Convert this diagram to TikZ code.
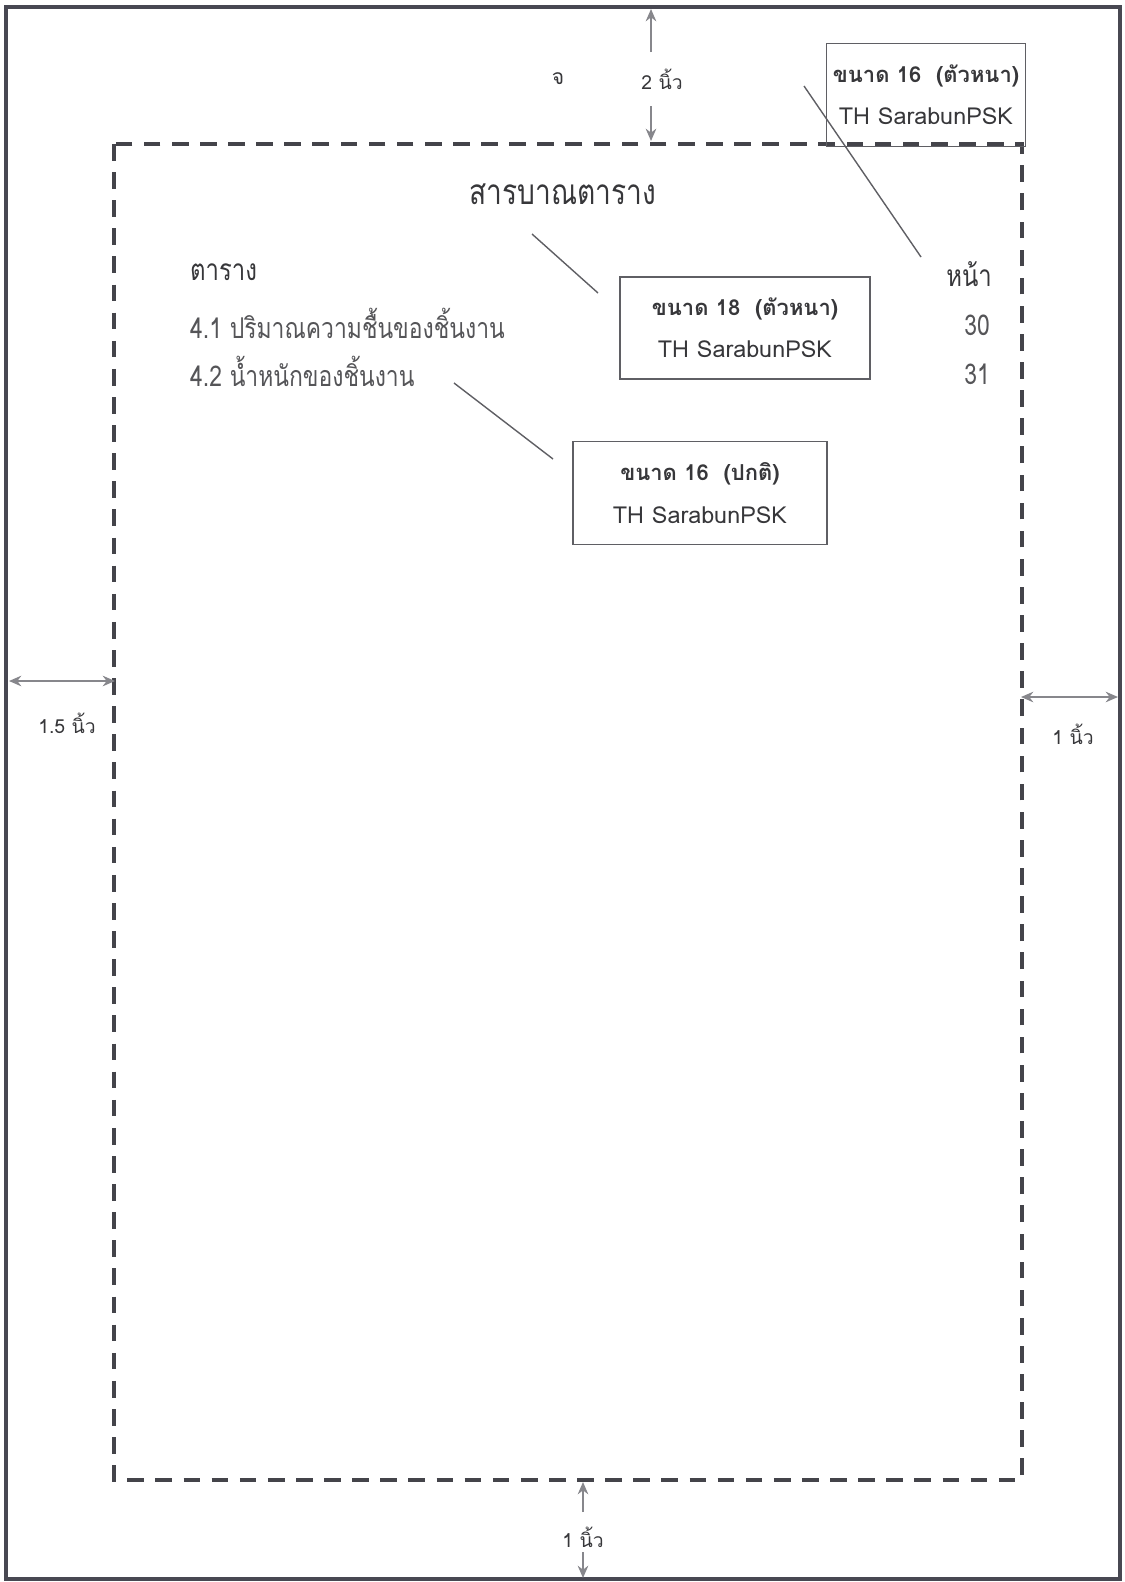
\documentclass[tikz,border=0pt]{standalone}
\usepackage{fontspec}
\newfontfamily\thaifont[Script=Thai, FakeStretch=0.8]{Loma}
\newfontfamily\notefont[Script=Thai]{Loma}
\usetikzlibrary{arrows.meta}
\definecolor{FrameGray}{RGB}{72,72,82}
\definecolor{DashGray}{RGB}{68,68,74}
\definecolor{ArrowGray}{RGB}{135,135,140}
\definecolor{TextGray}{RGB}{55,55,58}
\definecolor{SoftText}{RGB}{85,85,88}
\definecolor{BoxGray}{RGB}{95,95,100}

\begin{document}
\begin{tikzpicture}[x=0.02cm, y=-0.02cm,
  sizebox/.style={draw=BoxGray, line width=0.8pt, align=center, text=TextGray,
    font=\notefont\fontsize{13.3}{24}\selectfont},
  dimarrow/.style={ArrowGray, line width=1.1pt, -{Stealth[length=7pt,width=6pt]}},
  dimboth/.style={ArrowGray, line width=1.1pt, {Stealth[length=7pt,width=6pt]}-{Stealth[length=7pt,width=6pt]}},
  dimlabel/.style={TextGray, font=\notefont\fontsize{11}{13}\selectfont},
  leader/.style={BoxGray, line width=0.8pt}]
  \useasboundingbox (0,0) rectangle (1125,1582);

  % page and text area
  \draw[FrameGray, line width=2.2pt] (6,7) rectangle (1120,1579);
  \draw[DashGray, line width=2.4pt, dash pattern=on 9.5pt off 6.5pt] (114,144) rectangle (1022,1480);

  % margins
  \coordinate (topout) at (651,9);
  \coordinate (topmid) at (651,52);
  \coordinate (topgo) at (651,106);
  \coordinate (topin) at (651,141);
  \draw[dimarrow] (topmid) -- (topout);
  \draw[dimarrow] (topgo) -- (topin);
  \node[dimlabel, font=\notefont\fontsize{12}{13}\selectfont] (pagemark) at (558,79) {จ};
  \node[dimlabel] (topgap) at (662,79) {2 นิ้ว};

  \coordinate (leftout) at (9,681);
  \coordinate (leftin) at (115,681);
  \draw[dimboth] (leftout) -- (leftin);
  \node[dimlabel] (leftgap) at (67,723) {1.5 นิ้ว};

  \coordinate (rightin) at (1021,697);
  \coordinate (rightout) at (1118,697);
  \draw[dimboth] (rightin) -- (rightout);
  \node[dimlabel] (rightgap) at (1073,734) {1 นิ้ว};

  \coordinate (botin) at (583,1482);
  \coordinate (botmid) at (583,1512);
  \coordinate (botgo) at (583,1552);
  \coordinate (botout) at (583,1578);
  \draw[dimarrow] (botmid) -- (botin);
  \draw[dimarrow] (botgo) -- (botout);
  \node[dimlabel] (botgap) at (583,1537) {1 นิ้ว};

  % list of tables
  \node[TextGray, font=\thaifont\fontsize{20}{24}\selectfont] (title) at (563,194) {สารบาณตาราง};
  \node[anchor=west, TextGray, font=\thaifont\fontsize{17}{20}\selectfont] (tabhead) at (184,272) {ตาราง};
  \node[anchor=west, SoftText, font=\thaifont\fontsize{16.3}{20}\selectfont] (row1) at (184,323) {4.1 ปริมาณความชื้นของชิ้นงาน};
  \node[anchor=west, SoftText, font=\thaifont\fontsize{16.3}{20}\selectfont] (row2) at (184,371) {4.2 น้ำหนักของชิ้นงาน};
  \node[TextGray, font=\thaifont\fontsize{17}{20}\selectfont] (pagehead) at (969,274) {หน้า};
  \node[SoftText, font=\thaifont\fontsize{16.3}{20}\selectfont] (page1) at (977,325) {30};
  \node[SoftText, font=\thaifont\fontsize{16.3}{20}\selectfont] (page2) at (977,374) {31};

  % font notes
  \node[sizebox, minimum width=3.98cm, minimum height=2.06cm] (note1) at (926,95)
    {{\bfseries\fontsize{12.5}{24}\selectfont ขนาด 16\ \ (ตัวหนา)}\\ TH SarabunPSK};
  \node[sizebox, minimum width=5cm, minimum height=2.04cm] (note2) at (745,328)
    {{\bfseries\fontsize{12.5}{24}\selectfont ขนาด 18\ \ (ตัวหนา)}\\ TH SarabunPSK};
  \node[sizebox, minimum width=5.08cm, minimum height=2.06cm] (note3) at (700,493)
    {{\bfseries\fontsize{12.5}{24}\selectfont ขนาด 16\ \ (ปกติ)}\\ TH SarabunPSK};

  \coordinate (lead1a) at (804,86);
  \coordinate (lead1b) at (921,257);
  \coordinate (lead2a) at (532,234);
  \coordinate (lead2b) at (598,293);
  \coordinate (lead3a) at (454,383);
  \coordinate (lead3b) at (553,459);
  \draw[leader] (lead1a) -- (lead1b);
  \draw[leader] (lead2a) -- (lead2b);
  \draw[leader] (lead3a) -- (lead3b);
\end{tikzpicture}
\end{document}
